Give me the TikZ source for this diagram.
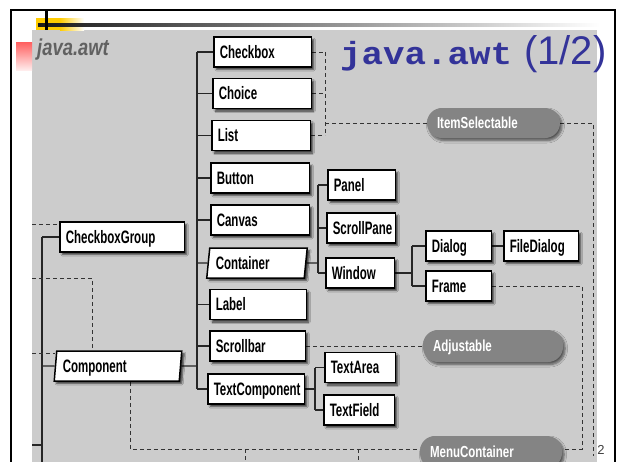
\documentclass[tikz,border=0pt]{standalone}
\usepackage{fontspec}
\setmainfont{Liberation Sans}
\usetikzlibrary{shapes.geometric,shadows,shadows.blur}
\newfontfamily\boxfont[FakeStretch=0.64]{Liberation Sans}
\newfontfamily\pillfont[FakeStretch=0.72]{Liberation Sans}
\newfontfamily\scanfont[FakeStretch=0.8]{Liberation Sans}
\newfontfamily\titlemono[FakeStretch=1.12]{Liberation Mono}
\definecolor{titleblue}{RGB}{51,51,153}
\definecolor{scan}{RGB}{204,204,204}
\definecolor{pill}{RGB}{132,132,132}
\definecolor{gold}{RGB}{255,204,0}
\definecolor{rosetop}{RGB}{255,95,95}
\definecolor{rosebot}{RGB}{255,236,236}
\pgfdeclarelayer{boxes}
\pgfsetlayers{main,boxes}
\tikzset{
  cls/.style={draw=black, line width=1.5pt, fill=white, minimum height=30pt,
    inner xsep=6pt, inner ysep=0pt, text height=12.9pt, text depth=0pt,
    align=left, font=\boxfont\bfseries\fontsize{18}{20}\selectfont,
    blur shadow={shadow xshift=2.5pt, shadow yshift=-2.5pt, shadow blur radius=1.5pt,
      shadow blur steps=5, shadow opacity=70}},
  abscls/.style={cls, shape=trapezium, trapezium stretches body,
    trapezium left angle=#1, trapezium right angle=180-#1},
  iface/.style={fill=pill, draw=none, rounded corners=15pt, minimum height=30pt,
    inner xsep=10pt, inner ysep=0pt, text=white, text height=11.5pt, text depth=0pt,
    align=left, font=\pillfont\bfseries\fontsize{16}{18}\selectfont,
    blur shadow={shadow xshift=2pt, shadow yshift=-2.5pt, shadow blur radius=2.5pt,
      shadow blur steps=6, shadow opacity=60}},
  tree/.style={line width=1.4pt, black!85},
  impl/.style={line width=0.9pt, dash pattern=on 4pt off 3pt, black!80},
}
\begin{document}
\hyphenpenalty=10000
\exhyphenpenalty=10000
\begin{tikzpicture}[x=1pt, y=-1pt]
\useasboundingbox (0,0) rectangle (624,461);
\clip (0,0) rectangle (624,461);
\fill[white] (0,0) rectangle (624,461);
% slide frame and scanned figure area
\draw[line width=2pt] (11,10) rectangle (615,480);
\fill[scan] (32,30) rectangle (597,470);
% slide header ornaments
\fill[gold] (36,18) rectangle (60,30);
\shade[left color=gold, right color=white] (60,18) rectangle (84,30);
\shade[left color=black!90, right color=white] (38,23.5) rectangle (600,26.5);
\fill[black] (44.5,10) rectangle (47.5,30);
\shade[top color=rosetop, bottom color=rosebot] (16,42) rectangle (32,70);

% caption printed in the scanned figure
\node[anchor=base west, inner sep=0pt, text=black!62,
  font=\scanfont\bfseries\itshape\fontsize{23}{25}\selectfont] (figcap) at (37,55) {java.awt};

% slide title
\node[anchor=base west, inner sep=0pt, text=titleblue,
  font=\titlemono\bfseries\fontsize{32}{36}\selectfont] (titlepkg) at (340,64) {java.awt};
\node[anchor=base west, inner sep=0pt, text=titleblue,
  font=\fontsize{40}{44}\selectfont] (titlepart) at (524,64) {(1/2)};

% page number
\node[inner sep=0pt, text=black!75, font=\fontsize{13}{14}\selectfont] (pagenum) at (601,450) {2};

\begin{pgfonlayer}{boxes}
\clip (0,0) rectangle (624,461);
% classes
\node[cls, text width=85.5pt] (checkbox) at (262.5,52) {Checkbox};
\node[cls, text width=86.5pt] (choice) at (262,93.5) {Choice};
\node[cls, text width=86.5pt] (list) at (261,135.5) {List};
\node[cls, text width=86.5pt] (button) at (260,178) {Button};
\node[cls, text width=86.5pt] (canvas) at (260,220) {Canvas};
\node[abscls=77, text width=82.5pt] (container) at (257,263) {Container};
\node[cls, text width=84.5pt] (label) at (258,304.5) {Label};
\node[cls, text width=83.5pt] (scrollbar) at (257.5,346) {Scrollbar};
\node[cls, text width=84.5pt] (textcomponent) at (256,389) {TextComponent};
\node[cls, text width=112.5pt] (checkboxgroup) at (122,237) {CheckboxGroup};
\node[abscls=79, text width=110.5pt] (component) at (118,366) {Component};
\node[cls, text width=55.5pt] (panel) at (361.5,185) {Panel};
\node[cls, text width=56.5pt] (scrollpane) at (361,228) {ScrollPane};
\node[cls, text width=56.5pt] (window) at (360,273) {Window};
\node[cls, text width=53.5pt] (dialog) at (458.5,246) {Dialog};
\node[cls, text width=62.5pt] (filedialog) at (541,246) {FileDialog};
\node[cls, text width=53.5pt] (frame) at (458.5,286) {Frame};
\node[cls, text width=58.5pt] (textarea) at (360,367.5) {TextArea};
\node[cls, text width=58.5pt] (textfield) at (359,410) {TextField};
% interfaces
\node[iface, text width=113pt] (itemselectable) at (493.5,123) {ItemSelectable};
\node[iface, text width=120pt, minimum height=32pt] (adjustable) at (493,346) {Adjustable};
\node[iface, text width=122pt, minimum height=32pt] (menucontainer) at (491,452) {MenuContainer};
\end{pgfonlayer}

% trunk positions and free ends
\coordinate (ta) at (197,0);
\coordinate (tb) at (42,0);
\coordinate (tc) at (318,0);
\coordinate (td) at (412,0);
\coordinate (te) at (315,0);
\coordinate (ia) at (325,0);
\coordinate (cb) at (92,0);
\coordinate (cd) at (130,0);
\coordinate (fb) at (582,0);
\coordinate (tbbot) at (42,470);
\coordinate (tbstub) at (32,445);
\coordinate (ea) at (32,224);
\coordinate (eb) at (32,278);
\coordinate (ec) at (32,353);
\coordinate (ib) at (593,456);
\coordinate (mcw) at ([yshift=3pt]menucontainer.west);
\coordinate (mce) at ([yshift=3pt]menucontainer.east);
\coordinate (tk1) at (245,449);
\coordinate (tk1b) at (245,470);
\coordinate (tk2) at (358,449);
\coordinate (tk2b) at (358,470);

% subclass trees
\draw[tree] (ta |- checkbox) -- (ta |- textcomponent);
\foreach \n in {checkbox,choice,list,button,canvas,container,label,scrollbar,textcomponent}
  \draw[tree] (ta |- \n) -- (\n.west);
\draw[tree] (component.east) -- (ta |- component);
\draw[tree] (tb |- checkboxgroup) -- (tbbot);
\draw[tree] (tb |- checkboxgroup) -- (checkboxgroup.west);
\draw[tree] (tb |- component) -- (component.west);
\draw[tree] (tbstub) -- (tbstub -| tb);
\draw[tree] (container.east) -- (tc |- container);
\draw[tree] (tc |- panel) -- (tc |- window);
\foreach \n in {panel,scrollpane,window}
  \draw[tree] (tc |- \n) -- (\n.west);
\draw[tree] (window.east) -- (td |- window);
\draw[tree] (td |- dialog) -- (td |- frame);
\draw[tree] (td |- dialog) -- (dialog.west);
\draw[tree] (td |- frame) -- (frame.west);
\draw[tree] (dialog.east) -- (filedialog.west);
\draw[tree] (textcomponent.east) -- (te |- textcomponent);
\draw[tree] (te |- textarea) -- (te |- textfield);
\draw[tree] (te |- textarea) -- (textarea.west);
\draw[tree] (te |- textfield) -- (textfield.west);
% interface links
\foreach \n in {checkbox,choice,list}
  \draw[impl] (\n.east) -- (ia |- \n);
\draw[impl] (ia |- checkbox) -- (ia |- list);
\draw[impl] (ia |- itemselectable) -- (itemselectable.west);
\draw[impl] (itemselectable.east) -| (ib);
\draw[impl] (scrollbar.east) -- (adjustable.west);
\draw[impl] (frame.east) -| (fb |- mce) -- (mce);
\draw[impl] (cd |- component.south) |- (mcw);
\draw[impl] (tk1) -- (tk1b);
\draw[impl] (tk2) -- (tk2b);
\draw[impl] (ea) -- (ea -| checkboxgroup.west);
\draw[impl] (eb) -| (cb |- component.north);
\draw[impl] (ec) -- (ec -| component.west);
\end{tikzpicture}
\end{document}
